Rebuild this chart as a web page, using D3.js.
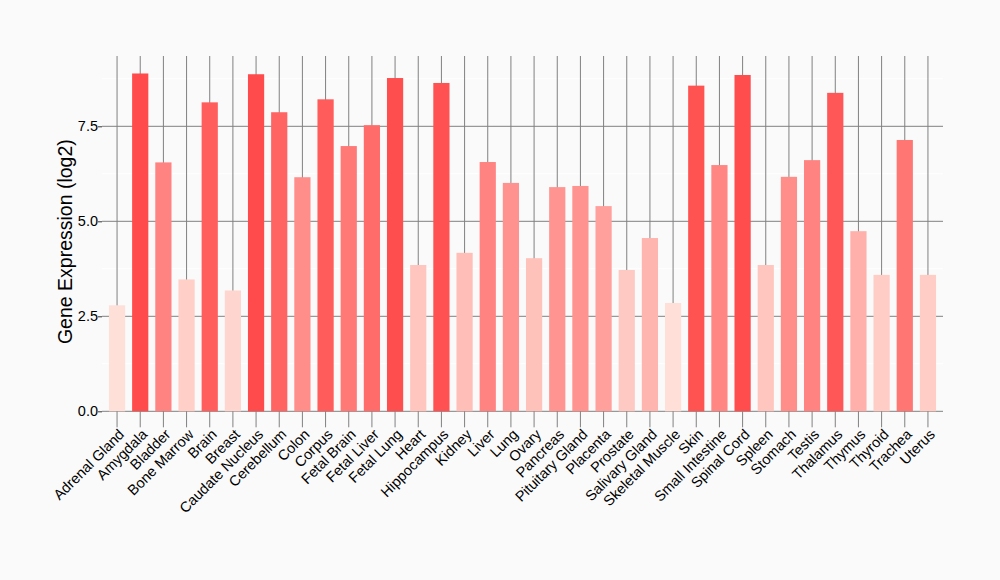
<!DOCTYPE html>
<html>
<head>
<meta charset="utf-8">
<script src="https://cdn.jsdelivr.net/npm/d3@7"></script>
<style>
html,body{margin:0;padding:0;background:#fafafa;}
svg{display:block;}
text{font-family:"Liberation Sans",Arial,sans-serif;}
</style>
</head>
<body>
<svg id="chart" width="1000" height="580"></svg>
<script>
const categories = ["Adrenal Gland","Amygdala","Bladder","Bone Marrow","Brain","Breast","Caudate Nucleus","Cerebellum","Colon","Corpus","Fetal Brain","Fetal Liver","Fetal Lung","Heart","Hippocampus","Kidney","Liver","Lung","Ovary","Pancreas","Pituitary Gland","Placenta","Prostate","Salivary Gland","Skeletal Muscle","Skin","Small Intestine","Spinal Cord","Spleen","Stomach","Testis","Thalamus","Thymus","Thyroid","Trachea","Uterus"];
const values = [2.79,8.89,6.55,3.47,8.13,3.18,8.87,7.87,6.16,8.21,6.98,7.53,8.77,3.85,8.64,4.17,6.56,6.01,4.03,5.90,5.93,5.40,3.72,4.56,2.85,8.57,6.48,8.85,3.85,6.17,6.61,8.38,4.74,3.59,7.14,3.59];
const yTicks = [0,2.5,5.0,7.5];
const yMinorTicks = [1.25,3.75,6.25,8.75];
const yLabel = "Gene Expression (log2)";

(function(){
const svg = d3.select("#chart");
const mLeft = 102, mRight = 943, mTop = 56, mBottom = 411.3;

const x = d3.scaleBand().domain(categories).range([mLeft, mRight]).paddingInner(0.3).paddingOuter(0.3);
const y = d3.scaleLinear().domain([0, 9.35]).range([mBottom, mTop]);
const color = d3.scaleLinear().domain([d3.min(values), d3.max(values)]).range(["#ffe0d8", "#ff4b4b"]);

svg.append("g").selectAll("line").data(yMinorTicks).join("line")
  .attr("x1", mLeft).attr("x2", mRight)
  .attr("y1", d => y(d)).attr("y2", d => y(d))
  .attr("stroke", "#ffffff").attr("stroke-width", 1);

svg.append("g").selectAll("line").data(yTicks).join("line")
  .attr("x1", mLeft).attr("x2", mRight)
  .attr("y1", d => y(d)).attr("y2", d => y(d))
  .attr("stroke", "#808080").attr("stroke-width", 1);

svg.append("g").selectAll("line").data(categories).join("line")
  .attr("x1", d => x(d) + x.bandwidth()/2).attr("x2", d => x(d) + x.bandwidth()/2)
  .attr("y1", mTop).attr("y2", mBottom)
  .attr("stroke", "#808080").attr("stroke-width", 1);

svg.append("g").selectAll("rect").data(values).join("rect")
  .attr("x", (d,i) => x(categories[i]))
  .attr("width", x.bandwidth())
  .attr("y", d => y(d))
  .attr("height", d => mBottom - y(d))
  .attr("fill", d => color(d));

const yAxis = svg.append("g").attr("transform", `translate(${mLeft},0)`)
  .call(d3.axisLeft(y).tickValues(yTicks).tickFormat(d3.format(".1f")).tickSize(4).tickPadding(0));
yAxis.select(".domain").remove();
yAxis.selectAll(".tick line").attr("stroke", "#333");
yAxis.selectAll(".tick text").attr("font-size", 14.5).attr("fill", "#000");

const xAxis = svg.append("g").attr("transform", `translate(0,${mBottom})`)
  .call(d3.axisBottom(x).tickSize(16).tickFormat(""));
xAxis.select(".domain").remove();
xAxis.selectAll(".tick line").attr("stroke", "#808080");

svg.append("g").selectAll("text").data(categories).join("text")
  .attr("transform", d => `translate(${x(d) + x.bandwidth()/2 + 8},${mBottom + 24}) rotate(-45)`)
  .attr("text-anchor", "end")
  .attr("font-size", 14.5)
  .attr("fill", "#000")
  .text(d => d);

svg.append("text")
  .attr("transform", `translate(72,${(mTop + mBottom)/2 + 8}) rotate(-90)`)
  .attr("text-anchor", "middle")
  .attr("font-size", 19.5)
  .attr("fill", "#000")
  .text(yLabel);
})();
</script>
</body>
</html>
